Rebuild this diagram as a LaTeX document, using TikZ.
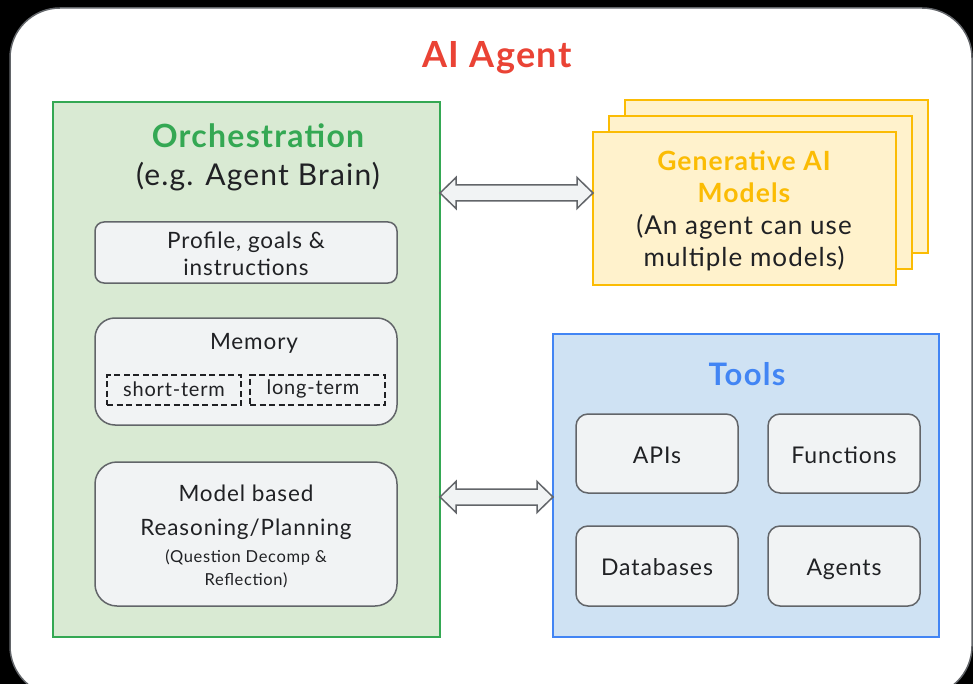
\documentclass[tikz,border=0pt]{standalone}
\usepackage{fontspec}
\setmainfont{Lato}[LetterSpace=4]
\usetikzlibrary{calc}

\definecolor{agentred}{HTML}{EA4335}
\definecolor{orchgreen}{HTML}{34A853}
\definecolor{orchfill}{HTML}{D9EAD3}
\definecolor{genyellow}{HTML}{FBBC04}
\definecolor{genfill}{HTML}{FFF2CC}
\definecolor{toolblue}{HTML}{4285F4}
\definecolor{toolfill}{HTML}{CFE2F3}
\definecolor{itemfill}{HTML}{F1F3F4}
\definecolor{itemedge}{HTML}{626569}
\definecolor{inktext}{HTML}{202124}

\tikzset{
  panel/.style={rectangle, line width=1.5pt, inner sep=0pt, outer sep=0pt},
  itembox/.style={rectangle, draw=itemedge, fill=itemfill, line width=1.5pt, inner sep=0pt, outer sep=0pt},
  toolitem/.style={itembox, rounded corners=12pt, font=\fontsize{23}{28}\selectfont, text=inktext,
    text height=21pt, text depth=2pt},
  memslot/.style={rectangle, draw=inktext, dashed, dash pattern=on 6pt off 3.5pt, line width=1.3pt, inner sep=0pt},
  label/.style={text=inktext, inner sep=0pt, align=center},
  heading/.style={inner sep=0pt},
  fatarrow/.style={draw=itemedge, fill=itemfill, line width=1.5pt, line join=miter},
}

% double-headed block arrow between two points at the same height
\newcommand\blockarrow[2]{%
  \draw[fatarrow] let \p1=(#1), \p2=(#2) in
    (\p1) -- (\x1+16pt,\y1+15.5pt) -- (\x1+16pt,\y1+8pt) -- (\x2-16pt,\y2+8pt)
    -- (\x2-16pt,\y2+15.5pt) -- (\p2) -- (\x2-16pt,\y2-15.5pt) -- (\x2-16pt,\y2-8pt)
    -- (\x1+16pt,\y1-8pt) -- (\x1+16pt,\y1-15.5pt) -- cycle;}

\begin{document}
\begin{tikzpicture}[x=1pt, y=-1pt]
\useasboundingbox (0,0) rectangle (973,684);
\fill[black] (0,0) rectangle (973,684);
\draw[draw=itemedge, fill=white, line width=1.5pt, rounded corners=50pt] (10,8) rectangle (972,696);

% title
\node[heading, text=agentred, font=\fontsize{36}{40}\selectfont\bfseries] (title) at (497,58) {AI Agent};

% orchestration panel
\node[panel, draw=orchgreen, fill=orchfill, minimum width=387pt, minimum height=535pt] (orch) at (246.5,369.5) {};
\node[heading, text=orchgreen, font=\fontsize{32}{36}\selectfont\bfseries] (orchtitle) at (258,136) {Orchestration};
\node[label, font=\fontsize{30}{36}\selectfont] (orchsub) at (258,177) {(e.g. Agent Brain)};

\node[itembox, rounded corners=9pt, minimum width=302pt, minimum height=61pt] (profile) at (246,252.5) {};
\node[label, font=\fontsize{22.5}{27}\selectfont] (profiletxt) at (246,254) {Profile, goals \&\\instructions};

\node[itembox, rounded corners=20pt, minimum width=302pt, minimum height=107pt] (memory) at (246,371.5) {};
\node[label, font=\fontsize{22.5}{27}\selectfont] (memorytxt) at (254,343) {Memory};
\node[memslot, minimum width=134pt, minimum height=30pt] (short) at (174,390) {};
\node[label, font=\fontsize{20}{24}\selectfont] (shorttxt) at (174,389) {short-term};
\node[memslot, minimum width=135pt, minimum height=30pt] (long) at (317.5,390) {};
\node[label, font=\fontsize{20}{24}\selectfont] (longtxt) at (313,389) {long-term};

\node[itembox, rounded corners=22pt, minimum width=302pt, minimum height=144pt] (model) at (246,534) {};
\node[label, font=\fontsize{22.5}{27}\selectfont] (modelA) at (246,493) {Model based};
\node[label, font=\fontsize{22.5}{27}\selectfont] (modelB) at (246,529) {Reasoning/Planning};
\node[label, font=\fontsize{16.5}{20}\selectfont] (modelC) at (246,558) {(Question Decomp \&};
\node[label, font=\fontsize{16.5}{20}\selectfont] (modelD) at (246,580) {Reflection)};

% stacked generative model cards
\node[panel, draw=genyellow, fill=genfill, minimum width=303pt, minimum height=153pt] (genC) at (776.5,176.5) {};
\node[panel, draw=genyellow, fill=genfill, minimum width=303pt, minimum height=153pt] (genB) at (760.5,192.5) {};
\node[panel, draw=genyellow, fill=genfill, minimum width=303pt, minimum height=153pt] (genA) at (744.5,208.5) {};
\node[heading, text=genyellow, font=\fontsize{26.5}{31}\selectfont\bfseries] (genT1) at (744,161) {Generative AI};
\node[heading, text=genyellow, font=\fontsize{26.5}{31}\selectfont\bfseries] (genT2) at (744,193) {Models};
\node[label, font=\fontsize{26}{31}\selectfont] (genT3) at (744,227) {(An agent can use};
\node[label, font=\fontsize{26}{31}\selectfont] (genT4) at (744,259) {multiple models)};

% tools panel
\node[panel, draw=toolblue, fill=toolfill, minimum width=386pt, minimum height=303pt] (tools) at (746,485.5) {};
\node[heading, text=toolblue, font=\fontsize{31}{36}\selectfont\bfseries] (toolstitle) at (747,374) {Tools};
\node[toolitem, minimum width=162pt, minimum height=79pt] (apis) at (657,453.5) {APIs};
\node[toolitem, minimum width=152pt, minimum height=79pt] (funcs) at (844,453.5) {Functions};
\node[toolitem, minimum width=162pt, minimum height=80pt] (dbs) at (657,566) {Databases};
\node[toolitem, minimum width=152pt, minimum height=80pt] (agents) at (844,566) {Agents};

% connectors
\coordinate (genL) at (orch.east |- 0,193);
\coordinate (genR) at (genA.west |- 0,193);
\blockarrow{genL}{genR}
\coordinate (toolL) at (orch.east |- 0,497);
\coordinate (toolR) at (tools.west |- 0,497);
\blockarrow{toolL}{toolR}
\end{tikzpicture}
\end{document}
